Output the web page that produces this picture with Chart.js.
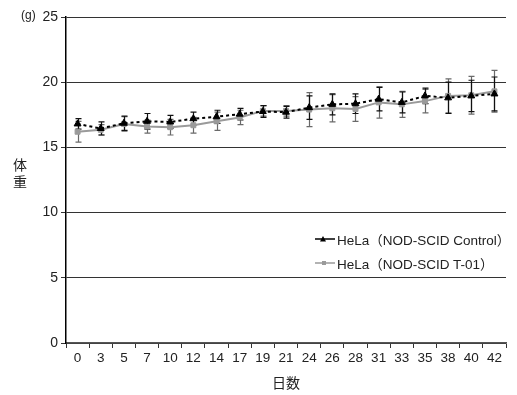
<!DOCTYPE html>
<html>
<head>
<meta charset="utf-8">
<script src="https://cdn.jsdelivr.net/npm/chart.js@4/dist/chart.umd.min.js"></script>
<style>
  html,body{margin:0;padding:0;background:#fff;}
  #wrap{position:relative;width:517px;height:395px;}
  .lbl{position:absolute;font-family:'Liberation Sans','Noto Sans CJK JP',sans-serif;color:#222;white-space:nowrap;}
  .leg{position:absolute;left:315px;font-family:'Liberation Sans','Noto Sans CJK JP',sans-serif;font-size:13.5px;color:#222;white-space:nowrap;display:flex;align-items:center;}
  .leg canvas{margin-right:2px;}
</style>
</head>
<body>
<div id="wrap">
  <canvas id="c" width="517" height="395"></canvas>
  <div class="lbl" style="left:21px;top:8px;font-size:12px;">(g)</div>
  <div class="lbl" style="left:13px;top:156px;font-size:14px;line-height:17px;font-family:'Noto Sans CJK JP',sans-serif;">体<br>重</div>
  <div class="leg" style="top:229px;"><canvas id="l1" width="20" height="10"></canvas>HeLa（NOD-SCID Control）</div>
  <div class="leg" style="top:253px;"><canvas id="l2" width="20" height="10"></canvas>HeLa（NOD-SCID T-01）</div>
</div>
<script>
const days = ['0','3','5','7','10','12','14','17','19','21','24','26','28','31','33','35','38','40','42'];
const controlMean = [16.8, 16.45, 16.85, 17.0, 16.95, 17.2, 17.35, 17.55, 17.75, 17.7, 18.05, 18.3, 18.35, 18.7, 18.45, 18.95, 18.8, 18.95, 19.1];
const controlErr  = [0.4, 0.5, 0.55, 0.6, 0.5, 0.5, 0.5, 0.45, 0.45, 0.45, 0.9, 0.8, 0.75, 0.9, 0.8, 0.6, 1.2, 1.2, 1.3];
const t01Mean     = [16.2, 16.35, 16.8, 16.6, 16.55, 16.7, 17.0, 17.3, 17.8, 17.8, 17.9, 18.0, 17.95, 18.45, 18.3, 18.55, 18.95, 19.0, 19.3];
const t01Err      = [0.8, 0.4, 0.55, 0.5, 0.6, 0.6, 0.7, 0.55, 0.4, 0.4, 1.3, 1.05, 0.95, 1.2, 1.0, 0.9, 1.3, 1.45, 1.6];
const yTicks = [0, 5, 10, 15, 20, 25];
const seriesNames = ['HeLa（NOD-SCID Control）', 'HeLa（NOD-SCID T-01）'];
const xTitle = '日数';

const errorSets = [controlErr, t01Err];
const errColors = ['#111', '#6a6a6a'];

const errorBarPlugin = {
  id: 'errorBars',
  beforeDatasetsDraw(chart) {
    const ctx = chart.ctx;
    const ys = chart.scales.y;
    ctx.save();
    for (let d = chart.data.datasets.length - 1; d >= 0; d--) {
      const meta = chart.getDatasetMeta(d);
      const vals = chart.data.datasets[d].data;
      const errs = errorSets[d];
      ctx.strokeStyle = errColors[d];
      ctx.lineWidth = 1.2;
      meta.data.forEach((pt, i) => {
        const x = Math.round(pt.x) + 0.5;
        const top = ys.getPixelForValue(vals[i] + errs[i]);
        const bot = ys.getPixelForValue(vals[i] - errs[i]);
        ctx.beginPath();
        ctx.moveTo(x, top); ctx.lineTo(x, bot);
        ctx.moveTo(x - 3, top); ctx.lineTo(x + 3, top);
        ctx.moveTo(x - 3, bot); ctx.lineTo(x + 3, bot);
        ctx.stroke();
      });
    }
    ctx.restore();
  }
};

const FONT = "'Liberation Sans','Noto Sans CJK JP',sans-serif";

new Chart(document.getElementById('c'), {
  type: 'line',
  data: {
    labels: days,
    datasets: [
      {
        label: seriesNames[0],
        data: controlMean,
        borderColor: '#000',
        backgroundColor: '#000',
        borderWidth: 2,
        borderDash: [3, 3],
        pointStyle: 'triangle',
        pointRadius: 4,
        pointBorderWidth: 1,
        tension: 0
      },
      {
        label: seriesNames[1],
        data: t01Mean,
        borderColor: '#9a9a9a',
        backgroundColor: '#9a9a9a',
        borderWidth: 2,
        pointStyle: 'rect',
        pointRadius: 3.5,
        pointBorderWidth: 1,
        tension: 0
      }
    ]
  },
  options: {
    responsive: false,
    animation: false,
    events: [],
    layout: { padding: { left: 0, right: 11, top: 17, bottom: 0 } },
    plugins: { legend: { display: false }, tooltip: { enabled: false } },
    scales: {
      x: {
        type: 'category',
        offset: true,
        grid: { offset: true, drawOnChartArea: false, drawTicks: true, tickLength: 5, color: '#333' },
        border: { color: '#555', width: 1.5 },
        ticks: { color: '#222', font: { family: FONT, size: 13.5 }, padding: 2, maxRotation: 0, autoSkip: false },
        title: { display: true, text: xTitle, color: '#222', font: { family: "'Noto Sans CJK JP',sans-serif", size: 14 }, padding: { top: 2, bottom: 4 } },
        afterFit(scale) { scale.height = 52; }
      },
      y: {
        min: 0, max: 25,
        afterBuildTicks(scale) { scale.ticks = yTicks.map(v => ({ value: v })); },
        grid: { color: '#333', lineWidth: 1, drawTicks: true, tickLength: 5 },
        border: { color: '#000', width: 1.5 },
        ticks: { color: '#222', font: { family: FONT, size: 14 }, padding: 3 },
        afterFit(scale) { scale.width = 66; }
      }
    }
  },
  plugins: [errorBarPlugin]
});

function legendIcon(id, color, marker) {
  const c = document.getElementById(id).getContext('2d');
  c.strokeStyle = color; c.fillStyle = color; c.lineWidth = 1.5;
  c.beginPath(); c.moveTo(0, 5); c.lineTo(20, 5); c.stroke();
  if (marker === 'tri') {
    c.beginPath(); c.moveTo(8, 2); c.lineTo(11, 7.5); c.lineTo(5, 7.5); c.closePath(); c.fill();
  } else {
    c.fillRect(7, 3, 4, 4);
  }
}
legendIcon('l1', '#000', 'tri');
legendIcon('l2', '#9a9a9a', 'sq');
</script>
</body>
</html>
